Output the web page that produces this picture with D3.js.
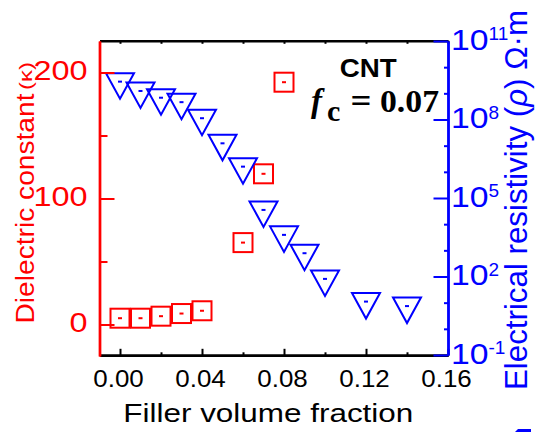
<!DOCTYPE html>
<html>
<head>
<meta charset="utf-8">
<script src="https://cdn.jsdelivr.net/npm/d3@7"></script>
<style>
  html, body { margin: 0; padding: 0; background: #fff; }
  svg { display: block; font-family: "Liberation Sans", Arial, sans-serif; }
</style>
</head>
<body>
<svg id="chart" width="536" height="432"></svg>
<script>
// ---- data ----
const dielectricFraction = [0, 0.01, 0.02, 0.03, 0.04, 0.06, 0.07, 0.08];
const dielectricConstant = [5.0, 5.0, 6.6, 8.7, 10.9, 65, 119.6, 192.3];

const resistivityFraction = [0, 0.01, 0.02, 0.03, 0.04, 0.05, 0.06, 0.07, 0.08, 0.09, 0.10, 0.12, 0.14];
const resistivityValue = [2.8e9, 1.23e9, 6.8e8, 4.6e8, 1.12e8, 1.23e7, 1.58e6, 3.5e4, 3.9e3, 776, 81, 11, 7.4];

const xMajorTicks = [0, 0.04, 0.08, 0.12, 0.16];
const xMinorTicks = [0.02, 0.06, 0.10, 0.14];
const xTopTicks = [0, 0.02, 0.04, 0.06, 0.08, 0.10, 0.12, 0.14, 0.16];
const leftMajorTicks = [0, 100, 200];
const leftMinorTicks = [50, 150];
const rightMajorExp = [-1, 2, 5, 8, 11];
const rightMinorExp = [0, 1, 3, 4, 6, 7, 9, 10];

const RED = "#ff0000", BLUE = "#0000ff", BLACK = "#000000";

const svg = d3.select("#chart");
const L = 99.5, R = 448, T = 40.8, B = 355.3;

const x = d3.scaleLinear().domain([-0.01, 0.16]).range([L, R]);
const yL = d3.scaleLinear().domain([-25, 225]).range([356, 41]);
const yR = d3.scaleLog().domain([0.1, 1e11]).range([355, 41]);

// ---- markers ----
const sq = svg.append("g");
dielectricFraction.forEach((f, i) => {
  const cx = x(f), cy = yL(dielectricConstant[i]);
  sq.append("rect").attr("x", cx - 9.5).attr("y", cy - 9.5).attr("width", 19).attr("height", 19)
    .attr("fill", "none").attr("stroke", RED).attr("stroke-width", 2);
  sq.append("rect").attr("x", cx - 2).attr("y", cy - 1).attr("width", 4).attr("height", 2).attr("fill", RED);
});

const tri = svg.append("g");
resistivityFraction.forEach((f, i) => {
  const cx = x(f), cy = yR(resistivityValue[i]);
  tri.append("path")
    .attr("d", `M${cx - 14},${cy - 8.5}L${cx + 14},${cy - 8.5}L${cx},${cy + 17}Z`)
    .attr("fill", "none").attr("stroke", BLUE).attr("stroke-width", 2).attr("stroke-linejoin", "miter");
  tri.append("rect").attr("x", cx - 2).attr("y", cy - 1).attr("width", 4).attr("height", 2).attr("fill", BLUE);
});

// ---- axes ----
function styleAxis(g, color, width) {
  g.select(".domain").attr("stroke", color).attr("stroke-width", width);
  g.selectAll(".tick line").attr("stroke", color).attr("stroke-width", 2);
  g.selectAll(".tick text").remove();
}

const gTop = svg.append("g").attr("transform", `translate(0,${T})`)
  .call(d3.axisTop(x).tickValues(xTopTicks).tickSize(-3).tickSizeOuter(0).tickFormat(""));
styleAxis(gTop, BLACK, 2.5);

const gBotMinor = svg.append("g").attr("transform", `translate(0,${B})`)
  .call(d3.axisBottom(x).tickValues(xMinorTicks).tickSize(-3).tickSizeOuter(0).tickFormat(""));
styleAxis(gBotMinor, BLACK, 2.5);
const gBot = svg.append("g").attr("transform", `translate(0,${B})`)
  .call(d3.axisBottom(x).tickValues(xMajorTicks).tickSize(-6.5).tickSizeOuter(0).tickFormat(""));
styleAxis(gBot, BLACK, 2.5);

const gLeftMinor = svg.append("g").attr("transform", `translate(${L},0)`)
  .call(d3.axisLeft(yL).tickValues(leftMinorTicks).tickSize(-8).tickSizeOuter(0).tickFormat(""));
styleAxis(gLeftMinor, RED, 2.4);
const gLeft = svg.append("g").attr("transform", `translate(${L},0)`)
  .call(d3.axisLeft(yL).tickValues(leftMajorTicks).tickSize(-15).tickSizeOuter(0).tickFormat(""));
styleAxis(gLeft, RED, 2.4);

const gRightMinor = svg.append("g").attr("transform", `translate(${R},0)`)
  .call(d3.axisRight(yR).tickValues(rightMinorExp.map(e => Math.pow(10, e))).tickSize(-4).tickSizeOuter(0).tickFormat(""));
styleAxis(gRightMinor, BLUE, 2.4);
const gRight = svg.append("g").attr("transform", `translate(${R},0)`)
  .call(d3.axisRight(yR).tickValues(rightMajorExp.map(e => Math.pow(10, e))).tickSize(-14.5).tickSizeOuter(0).tickFormat(""));
styleAxis(gRight, BLUE, 2.4);

// ---- tick labels ----
const fmtX = d3.format(".2f");
svg.append("g").selectAll("text").data(xMajorTicks).join("text")
  .attr("x", d => x(d) - 1.5).attr("y", 386.7)
  .attr("text-anchor", "middle").attr("font-size", 24).attr("fill", BLACK)
  .attr("textLength", 50.5).attr("lengthAdjust", "spacingAndGlyphs")
  .text(d => fmtX(d));

svg.append("g").selectAll("text").data(leftMajorTicks).join("text")
  .attr("x", 87.5).attr("y", d => yL(d) + 7)
  .attr("text-anchor", "end").attr("font-size", 28).attr("fill", RED)
  .attr("textLength", d => String(d).length * 18).attr("lengthAdjust", "spacingAndGlyphs")
  .text(d => String(d));

const gRL = svg.append("g");
rightMajorExp.forEach(e => {
  const yy = yR(Math.pow(10, e));
  gRL.append("text").attr("x", 451).attr("y", yy + 8.5)
    .attr("font-size", 30).attr("fill", BLUE)
    .attr("textLength", 37.5).attr("lengthAdjust", "spacingAndGlyphs").text("10");
  gRL.append("text").attr("x", 488.5).attr("y", yy - 1)
    .attr("font-size", 19).attr("fill", BLUE).text(e < 0 ? "-" + Math.abs(e) : String(e));
});

// ---- axis titles ----
svg.append("text").attr("x", 268.3).attr("y", 421.7)
  .attr("text-anchor", "middle").attr("font-size", 25.6).attr("fill", BLACK)
  .attr("textLength", 290).attr("lengthAdjust", "spacingAndGlyphs")
  .text("Filler volume fraction");

const lt = svg.append("g").attr("transform", "translate(34,323.5) rotate(-90)");
lt.append("text").attr("x", 0).attr("y", 0).attr("font-size", 26.5).attr("fill", RED)
  .attr("textLength", 230).attr("lengthAdjust", "spacingAndGlyphs").text("Dielectric constant");
lt.append("text").attr("x", 233.5).attr("y", -2).attr("font-size", 19).attr("fill", RED)
  .attr("textLength", 28).attr("lengthAdjust", "spacingAndGlyphs").text("(\u03BA)");

const rt = svg.append("text").attr("transform", "translate(527,390) rotate(-90)")
  .attr("font-size", 32).attr("fill", BLUE)
  .attr("textLength", 380).attr("lengthAdjust", "spacingAndGlyphs");
rt.append("tspan").text("Electrical resistivity (");
rt.append("tspan").attr("font-style", "italic").text("\u03C1");
rt.append("tspan").text(") \u03A9\u00B7m");

// stray fragment at the bottom edge of the reference
svg.append("path").attr("d", "M515,432L518,429L531,429L531,432Z").attr("fill", BLUE);

// ---- annotation ----
svg.append("text").attr("x", 368.3).attr("y", 76.7).attr("text-anchor", "middle")
  .attr("font-size", 25).attr("font-weight", "bold").attr("fill", BLACK)
  .attr("textLength", 57).attr("lengthAdjust", "spacingAndGlyphs").text("CNT");

const serif = "'Liberation Serif', 'Times New Roman', serif";
const ann = svg.append("g").style("font-family", serif).attr("font-weight", "bold").attr("fill", BLACK);
ann.append("text").attr("x", 311).attr("y", 111.7).attr("font-size", 33).attr("font-style", "italic").text("f");
ann.append("text").attr("x", 327).attr("y", 121).attr("font-size", 30).text("c");
ann.append("text").attr("x", 350.5).attr("y", 111.7).attr("font-size", 33)
  .attr("textLength", 21).attr("lengthAdjust", "spacingAndGlyphs").text("=");
ann.append("text").attr("x", 380).attr("y", 111.7).attr("font-size", 32)
  .attr("textLength", 59).attr("lengthAdjust", "spacingAndGlyphs").text("0.07");
</script>
</body>
</html>
